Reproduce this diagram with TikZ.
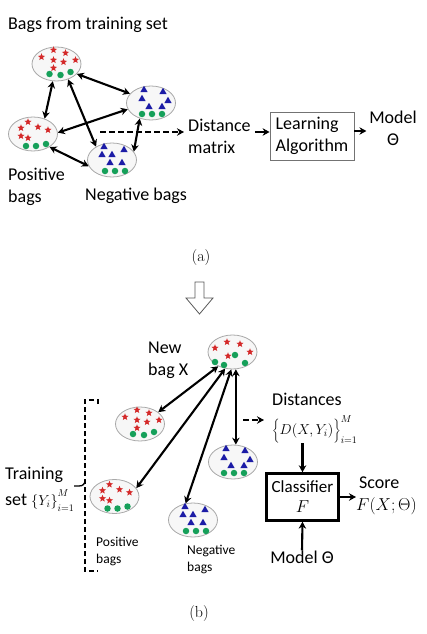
\documentclass[tikz,border=0pt]{standalone}
\usepackage{fontspec}
\setsansfont{Carlito}
\usetikzlibrary{shapes.geometric,arrows.meta,calc}

\definecolor{bagred}{HTML}{D42A2A}
\definecolor{bagblue}{HTML}{1C1CA6}
\definecolor{baggreen}{HTML}{16A05A}
\definecolor{bagedge}{HTML}{A8A8A8}
\definecolor{bagfill}{HTML}{F7F7F7}

\tikzset{
  bag/.style={ellipse, draw=bagedge, fill=bagfill, line width=0.8pt,
    minimum width=49pt, minimum height=34pt, inner sep=0pt},
  st/.style={star, star points=5, star point ratio=2.3, fill=bagred,
    inner sep=0pt, minimum size=7.5pt},
  tri/.style={regular polygon, regular polygon sides=3, fill=bagblue,
    inner sep=0pt, minimum size=8.5pt},
  gdot/.style={circle, fill=baggreen, inner sep=0pt, minimum size=6.5pt},
  lbl/.style={font=\sffamily\fontsize{18}{22}\selectfont, inner sep=0pt, align=left},
  smalllbl/.style={font=\sffamily\fontsize{13.5}{17}\selectfont, inner sep=0pt, align=left},
  capt/.style={font=\fontsize{16}{18}\selectfont, inner sep=0pt},
  dbl/.style={<->, line width=2.1pt},
  arr/.style={->, line width=2.1pt},
  dasharr/.style={->, line width=2pt, dash pattern=on 6pt off 3pt},
  pics/posA/.style={code={
    \foreach \a/\b in {-15/-7,-3/-14,9/-11,-3/-4,7/-2,19/-4,-3/4} \node[st] at (\a,\b) {};
    \foreach \a/\b in {-7/10,4/11,14/8} \node[gdot] at (\a,\b) {};
  }},
  pics/posB/.style={code={
    \foreach \a/\b in {-12/-6,-5/-12,5/-7,15/-4,-12/2,-5/4} \node[st] at (\a,\b) {};
    \foreach \a/\b in {-7/12,3/12,13/10} \node[gdot] at (\a,\b) {};
  }},
  pics/negA/.style={code={
    \foreach \a/\b in {-7/-13,12/-11,-9/-4,-2/4,11/4,17/-2} \node[tri] at (\a,\b) {};
    \foreach \a/\b in {-9/11,1/11,11/11} \node[gdot] at (\a,\b) {};
  }},
  pics/negB/.style={code={
    \foreach \a/\b in {-8/-13,12/-10,-10/-5,0/-5,-2/3,10/3} \node[tri] at (\a,\b) {};
    \foreach \a/\b in {-7/11,3/11,13/11} \node[gdot] at (\a,\b) {};
  }},
  pics/mixbag/.style={code={
    \foreach \a/\b in {-17.5/-4,-5.5/-10,7.5/-8,17.5/0,-4.5/4} \node[st] at (\a,\b) {};
    \foreach \a/\b in {2.5/3,-17.5/10,-8.5/13,12.5/11} \node[gdot] at (\a,\b) {};
  }},
}

\begin{document}
\begin{tikzpicture}[x=1pt,y=-1pt,>={Stealth[length=7pt,width=7.5pt]}]
\useasboundingbox (0,0) rectangle (427,634);

% ---------------- panel (a) ----------------
\node[lbl, anchor=west] (title) at (8,25) {Bags from training set};

\node[bag] (T) at (56.5,64) {};
\pic at (T) {posA};
\node[bag] (R) at (151,103) {};
\pic at (R) {negA};
\node[bag] (L) at (33,134) {};
\pic at (L) {posB};
\node[bag] (B) at (112,160) {};
\pic at (B) {negB};

\draw[dbl] (T.334) -- (R.156);
\draw[dbl] (T.258) -- (L.53);
\draw[dbl] (T.307) -- (B.140);
\draw[dbl] (L.3) -- (R.195);
\draw[dbl] (L.322) -- (B.195);
\draw[dbl] (R.234) -- (B.21);

\node[lbl, anchor=west] (posa) at (8,187) {Positive\\bags};
\node[lbl, anchor=west] (nega) at (85,196) {Negative bags};

\node[lbl, anchor=west] (dist) at (188,136) {Distance\\matrix};
\coordinate (da) at (100,132);
\draw[dasharr, shorten >=4pt] (da) -- (da -| dist.west);

\node[lbl, draw=black!55, line width=0.8pt, minimum width=84pt, minimum height=48pt,
      inner xsep=4pt] (learn) at (312,136) {Learning\\Algorithm};
\draw[arr, shorten <=4pt] ($(dist.east)+(0,-4)$) -- ($(learn.west)+(0,-4)$);

\node[lbl, align=center, anchor=center] (model) at (393,128) {Model\\Θ};
\draw[arr] ($(learn.east)+(0,-5)$) -- ($(learn.east)+(12,-5)$);

\node[capt] (capa) at (201,258) {(a)};

% hollow arrow
\draw[line width=0.8pt, draw=black!65, fill=white]
  (195,282) -- (204,282) -- (204,298) -- (213,298) -- (199.5,314) -- (186,298) -- (195,298) -- cycle;

% ---------------- panel (b) ----------------
\node[bag] (X) at (232.5,352) {};
\pic at (X) {mixbag};
\node[lbl, anchor=west] (newbag) at (148,360) {New\\bag X};

\node[bag] (p1) at (140,424) {};
\pic at (p1) {posA};
\node[bag] (p2) at (114.5,496.5) {};
\pic at (p2) {posB};
\node[bag] (n1) at (233,462) {};
\pic at (n1) {negA};
\node[bag] (n2) at (193,520) {};
\pic at (n2) {negB};

\draw[dbl] (X.225) -- (p1.33);
\draw[dbl] (X.246) -- (p2.21);
\draw[dbl] (X.266) -- (n2.114);
\draw[dbl] (X.281) -- (X.281 |- n1.north);

% bracket
\draw[line width=1.3pt, dash pattern=on 5pt off 3pt]
  (98,404) -- (98,400) -- (85,400) -- (85,571) -- (98,571);
\draw[line width=1.3pt] (74,486) -- (79,486) .. controls (83,486) and (85,484) .. (85,480);

\node[lbl, anchor=west] (train) at (5,489)
  {Training\\[4pt]set {\fontsize{14}{17}\selectfont$\Bigl\{Y_i\Bigr\}^{\raisebox{1.5pt}{$\scriptstyle M$}}_{\raisebox{-2pt}{$\scriptstyle i=1$}}$}};

\node[smalllbl, anchor=west] (posb) at (96,551) {Positive\\bags};
\node[smalllbl, anchor=west] (negb) at (187,559) {Negative\\bags};

\node[lbl, anchor=west] (dists) at (272,418)
  {Distances\\[7pt]{\fontsize{14}{17}\selectfont$\biggl\{D(X,Y_i)\biggr\}_{i=1}^{M}$}};
\coordinate (db) at (243,420);
\draw[dasharr, shorten >=8pt] (db) -- (db -| dists.west);

\node[lbl, align=center, draw, line width=2.4pt, minimum width=72pt, minimum height=47pt,
      font=\sffamily\fontsize{17}{20}\selectfont] (cls) at (302.5,497) {Classifier\\$F$};
\draw[arr] (cls.north |- dists.south) -- (cls.north);

\node[lbl, anchor=west] (score) at (356,496)
  {\hspace*{3pt}Score\\{\fontsize{16}{19}\selectfont$F(X;\Theta)$}};
\draw[arr] (cls.east) -- (cls.east -| score.west);

\node[lbl] (modelb) at (302,557) {Model Θ};
\draw[arr] (modelb.north) -- (cls.south);

\node[capt] (capb) at (199,613) {(b)};
\end{tikzpicture}
\end{document}
